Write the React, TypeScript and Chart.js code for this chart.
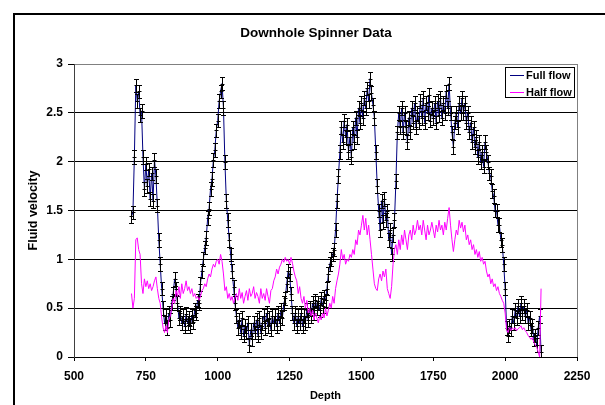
import React, { useEffect, useRef } from "react";
import { Chart, registerables } from "chart.js";

Chart.register(...registerables);

// ---- data ----
const TITLE = "Downhole Spinner Data";
const X_TITLE = "Depth";
const Y_TITLE = "Fluid velocity";
const SERIES_NAMES = ["Full flow", "Half flow"];

const DEPTH_START = 700;
const DEPTH_STEP = 5;

const FULL_FLOW = [
  1.44, 1.48, 2.05, 2.78, 2.62, 2.72, 2.48, 2.52, 2.05, 1.72,
  1.98, 1.75, 1.92, 1.62, 1.88, 1.6, 2.02, 1.85, 1.55, 1.2,
  0.95, 0.7, 0.5, 0.35, 0.42, 0.3, 0.45, 0.38, 0.55, 0.65,
  0.8, 0.7, 0.55, 0.4, 0.45, 0.35, 0.42, 0.32, 0.44, 0.35,
  0.4, 0.32, 0.42, 0.36, 0.48, 0.45, 0.58, 0.55, 0.75, 0.88,
  1.0, 1.12, 1.22, 1.42, 1.52, 1.72, 1.82, 2.02, 2.12, 2.32,
  2.42, 2.62, 2.72, 2.8, 2.55, 2.0, 1.6, 1.4, 1.2, 1.05,
  0.88, 0.72, 0.55, 0.42, 0.3, 0.38, 0.25, 0.4, 0.22, 0.32,
  0.25, 0.35, 0.12, 0.28, 0.18, 0.35, 0.25, 0.38, 0.22, 0.4,
  0.25, 0.35, 0.42, 0.3, 0.45, 0.32, 0.4, 0.28, 0.42, 0.35,
  0.42, 0.32, 0.45, 0.35, 0.48, 0.4, 0.55, 0.6, 0.75, 0.88,
  0.85, 0.65, 0.45, 0.35, 0.45, 0.32, 0.42, 0.35, 0.45, 0.32,
  0.42, 0.35, 0.48, 0.38, 0.5, 0.42, 0.55, 0.45, 0.58, 0.5,
  0.55, 0.48, 0.6, 0.52, 0.62, 0.58, 0.7, 0.85, 0.95, 1.0,
  1.05, 1.1, 1.3, 1.6, 1.85, 2.1, 2.35, 2.2, 2.42, 2.25,
  2.38, 2.1, 2.25, 2.05, 2.35, 2.2, 2.45, 2.25, 2.55, 2.4,
  2.6, 2.45, 2.65, 2.55, 2.75, 2.62, 2.85, 2.7, 2.58, 2.45,
  2.1, 1.75, 1.5, 1.3, 1.6, 1.38, 1.62, 1.4, 1.5, 1.2,
  1.3, 1.05, 1.25, 1.4, 1.8, 2.3, 2.5, 2.35, 2.55, 2.3,
  2.5, 2.35, 2.2, 2.45, 2.3, 2.55, 2.4, 2.6, 2.35, 2.5,
  2.4, 2.62, 2.45, 2.65, 2.4, 2.6, 2.5, 2.68, 2.42, 2.55,
  2.45, 2.6, 2.4, 2.62, 2.48, 2.65, 2.45, 2.6, 2.5, 2.72,
  2.55, 2.8, 2.5, 2.3, 2.15, 2.4, 2.5, 2.35, 2.6, 2.5,
  2.65, 2.5, 2.6, 2.4, 2.5, 2.3, 2.4, 2.2, 2.35, 2.15,
  2.25, 2.05, 2.2, 2.0, 2.1, 1.95, 2.2, 2.1, 2.0, 1.88,
  1.85, 1.7, 1.65, 1.5, 1.5, 1.35, 1.35, 1.2, 1.15, 0.95,
  0.7, 0.3, 0.22, 0.32, 0.28, 0.42, 0.35, 0.48, 0.4, 0.52,
  0.42, 0.55, 0.45, 0.52, 0.42, 0.48, 0.35, 0.4, 0.28, 0.32,
  0.18, 0.22, 0.12, 0.3, 0.42, 0.05,
];

const HALF_FLOW = [
  0.65, 0.5, 0.6, 1.2, 1.22, 1.1, 1.05, 0.75, 0.65, 0.8,
  0.72, 0.78, 0.7, 0.75, 0.68, 0.72, 0.78, 0.82, 0.7, 0.6,
  0.55, 0.4, 0.3, 0.25, 0.32, 0.25, 0.38, 0.42, 0.5, 0.6,
  0.55, 0.68, 0.62, 0.72, 0.6, 0.75, 0.65, 0.7, 0.78, 0.68,
  0.72, 0.65, 0.7, 0.62, 0.65, 0.6, 0.62, 0.58, 0.62, 0.68,
  0.7, 0.75, 0.72, 0.8, 0.85, 0.82, 0.9, 0.95, 0.92, 0.98,
  1.0, 0.95, 1.05, 0.98, 0.85, 0.68, 0.72, 0.6, 0.65, 0.58,
  0.62, 0.55, 0.6, 0.65, 0.58, 0.7, 0.6, 0.66, 0.55, 0.62,
  0.68, 0.58, 0.7, 0.62, 0.65, 0.72, 0.6, 0.66, 0.62, 0.55,
  0.7, 0.6, 0.65, 0.58, 0.7, 0.62, 0.55, 0.68, 0.7, 0.78,
  0.82, 0.9, 0.85, 0.92, 0.95, 1.0, 0.97, 1.02, 0.98, 1.0,
  0.95, 1.02, 0.96, 0.88, 0.82, 0.78, 0.65, 0.72, 0.6, 0.55,
  0.62, 0.5, 0.58, 0.45, 0.5, 0.42, 0.48, 0.38, 0.45, 0.4,
  0.35, 0.42, 0.38, 0.45, 0.4, 0.5, 0.42, 0.48, 0.55, 0.5,
  0.62, 0.55, 0.7, 0.78, 0.85, 0.95, 1.1, 1.0, 1.05, 0.95,
  1.0, 0.98, 1.05, 1.02, 1.1, 1.05, 1.2, 1.15, 1.3, 1.25,
  1.35, 1.45, 1.3, 1.42, 1.25, 1.35, 1.2, 1.05, 0.9, 0.75,
  0.7, 0.68, 0.8, 0.85, 0.78, 0.88, 0.82, 0.9, 0.7, 0.65,
  0.6, 0.72, 0.95, 1.1, 1.15, 1.05, 1.2, 1.1, 1.25, 1.15,
  1.3, 1.2, 1.1, 1.25, 1.3, 1.2, 1.35, 1.25, 1.3, 1.4,
  1.3, 1.35, 1.25, 1.4, 1.3, 1.2, 1.35, 1.25, 1.3, 1.38,
  1.3, 1.22, 1.35, 1.28, 1.4, 1.3, 1.35, 1.25, 1.38, 1.3,
  1.42, 1.53, 1.35, 1.2, 1.08, 1.2, 1.3, 1.25, 1.4, 1.32,
  1.38, 1.28, 1.35, 1.2, 1.25, 1.15, 1.2, 1.1, 1.15, 1.05,
  1.1, 1.02, 1.08, 0.98, 1.02, 0.95, 0.98, 0.88, 0.82, 0.85,
  0.75, 0.8, 0.72, 0.75, 0.68, 0.72, 0.65, 0.62, 0.58, 0.55,
  0.45, 0.28, 0.25, 0.3, 0.27, 0.3, 0.28, 0.3, 0.27, 0.29,
  0.3, 0.32, 0.28, 0.3, 0.27, 0.25, 0.22, 0.2, 0.18, 0.2,
  0.15, 0.12, 0.1, 0.05, 0.0, 0.7,
];

const FULL_FLOW_ERROR = 0.07;

const X_TICKS = [500, 750, 1000, 1250, 1500, 1750, 2000, 2250];
const Y_TICKS = [0, 0.5, 1, 1.5, 2, 2.5, 3];

const DEPTHS = FULL_FLOW.map((_, i) => DEPTH_START + i * DEPTH_STEP);

const FONT = "'Liberation Sans', Arial, sans-serif";

const decorPlugin = {
  id: "decor",
  afterDatasetDraw(chart: any, args: any) {
    if (args.meta.label !== SERIES_NAMES[0]) return;
    const { ctx, scales } = chart;
    const xs = scales.x;
    const ys = scales.y;
    ctx.save();
    ctx.strokeStyle = "#000";
    ctx.lineWidth = 1;
    ctx.beginPath();
    FULL_FLOW.forEach((v, i) => {
      const px = Math.round(xs.getPixelForValue(DEPTHS[i])) + 0.5;
      const top = Math.round(ys.getPixelForValue(v + FULL_FLOW_ERROR)) + 0.5;
      const bot = Math.round(ys.getPixelForValue(Math.max(0, v - FULL_FLOW_ERROR))) + 0.5;
      const mid = Math.round(ys.getPixelForValue(v)) + 0.5;
      ctx.moveTo(px, top);
      ctx.lineTo(px, bot);
      ctx.moveTo(px - 2.5, top);
      ctx.lineTo(px + 2.5, top);
      ctx.moveTo(px - 2.5, bot);
      ctx.lineTo(px + 2.5, bot);
      ctx.moveTo(px - 2, mid);
      ctx.lineTo(px + 2, mid);
    });
    ctx.stroke();
    ctx.restore();
  },
  afterDraw(chart: any) {
    const { ctx, chartArea } = chart;
    ctx.save();
    // right plot border
    ctx.strokeStyle = "#808080";
    ctx.lineWidth = 1;
    ctx.beginPath();
    ctx.moveTo(chartArea.right + 0.5, chartArea.top);
    ctx.lineTo(chartArea.right + 0.5, chartArea.bottom);
    ctx.stroke();

    // title
    ctx.fillStyle = "#000";
    ctx.font = `bold 13.5px ${FONT}`;
    ctx.textAlign = "center";
    ctx.textBaseline = "middle";
    ctx.fillText(TITLE, 316, 33);

    // legend
    const lx = 505.5, ly = 67.5, lw = 69, lh = 30;
    ctx.fillStyle = "#fff";
    ctx.fillRect(lx, ly, lw, lh);
    ctx.strokeStyle = "#000";
    ctx.strokeRect(lx, ly, lw, lh);
    const colors = ["#000080", "#ff00ff"];
    const rows = [75.5, 92.5];
    SERIES_NAMES.forEach((name, i) => {
      ctx.strokeStyle = colors[i];
      ctx.beginPath();
      ctx.moveTo(510, rows[i]);
      ctx.lineTo(524, rows[i]);
      ctx.stroke();
      ctx.fillStyle = "#000";
      ctx.font = `bold 11px ${FONT}`;
      ctx.textAlign = "left";
      ctx.textBaseline = "middle";
      ctx.fillText(name, 526, rows[i] + 0.5);
    });

    // outer chart border
    ctx.strokeStyle = "#000";
    ctx.lineWidth = 2;
    ctx.strokeRect(14, 14, 800, 800);
    ctx.restore();
  },
};

export default function App() {
  const canvasRef = useRef<HTMLCanvasElement | null>(null);

  useEffect(() => {
    const canvas = canvasRef.current;
    if (!canvas) return;
    const chart = new Chart(canvas, {
      type: "line",
      data: {
        datasets: [
          {
            label: SERIES_NAMES[1],
            data: HALF_FLOW.map((v, i) => ({ x: DEPTHS[i], y: v })),
            borderColor: "#ff00ff",
            backgroundColor: "#ff00ff",
            borderWidth: 1,
            pointRadius: 0,
            tension: 0,
            order: 0,
          },
          {
            label: SERIES_NAMES[0],
            data: FULL_FLOW.map((v, i) => ({ x: DEPTHS[i], y: v })),
            borderColor: "#000080",
            backgroundColor: "#000080",
            borderWidth: 1,
            pointRadius: 0,
            tension: 0,
            order: 1,
          },
        ],
      },
      options: {
        animation: false,
        responsive: false,
        devicePixelRatio: 1,
        layout: { padding: { top: 64, right: 28, bottom: 0, left: 0 } },
        plugins: {
          legend: { display: false },
          title: { display: false },
          tooltip: { enabled: false },
        },
        scales: {
          x: {
            type: "linear",
            min: 500,
            max: 2250,
            afterBuildTicks: (s: any) => {
              s.ticks = X_TICKS.map((v) => ({ value: v }));
            },
            afterFit: (s: any) => {
              s.height = 48;
            },
            grid: {
              drawOnChartArea: false,
              tickLength: 4,
              tickColor: "#000",
            },
            border: { color: "#000", width: 1 },
            ticks: {
              autoSkip: false,
              maxRotation: 0,
              padding: 8,
              color: "#000",
              font: { family: FONT, size: 12, weight: "bold" },
              callback: (v: any) => String(v),
            },
            title: {
              display: true,
              text: X_TITLE,
              color: "#000",
              font: { family: FONT, size: 11, weight: "bold" },
              padding: { top: 0, bottom: 2 },
            },
          },
          y: {
            type: "linear",
            min: 0,
            max: 3,
            afterBuildTicks: (s: any) => {
              s.ticks = Y_TICKS.map((v) => ({ value: v }));
            },
            afterFit: (s: any) => {
              s.width = 74;
            },
            grid: {
              color: (c: any) => (c.tick && c.tick.value === 3 ? "#808080" : "#000"),
              tickColor: "#000",
              tickLength: 6,
            },
            border: { color: "#404040", width: 1 },
            ticks: {
              padding: 5,
              color: "#000",
              font: { family: FONT, size: 12, weight: "bold" },
              callback: (v: any) => String(v),
            },
            title: {
              display: true,
              text: Y_TITLE,
              color: "#000",
              font: { family: FONT, size: 12.5, weight: "bold" },
              padding: { top: 26.5, bottom: 0 },
            },
          },
        },
      },
      plugins: [decorPlugin],
    } as any);
    return () => chart.destroy();
  }, []);

  return (
    <div style={{ position: "fixed", left: 0, top: 0, width: 605, height: 405, background: "#fff" }}>
      <canvas ref={canvasRef} width={605} height={405} style={{ display: "block" }} />
    </div>
  );
}
